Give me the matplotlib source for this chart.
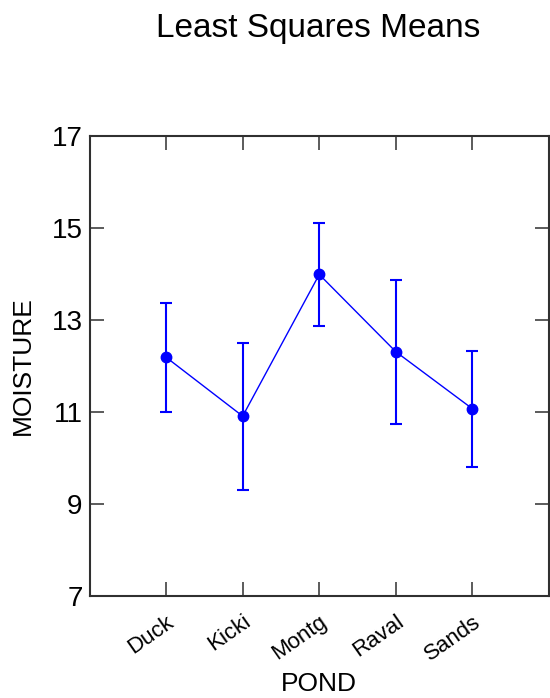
import matplotlib
matplotlib.use("Agg")
import matplotlib.pyplot as plt

plt.rcParams['font.family'] = ['Liberation Sans', 'DejaVu Sans']

ponds = ["Duck", "Kicki", "Montg", "Raval", "Sands"]
means = [12.19, 10.91, 13.99, 12.31, 11.07]
lower = [10.99, 9.30, 12.87, 10.75, 9.80]
upper = [13.38, 12.49, 15.10, 13.87, 12.33]
yticks = [7, 9, 11, 13, 15, 17]

fig = plt.figure(figsize=(5.5, 6.98), dpi=100)
ax = fig.add_axes([89.5/550, 1-596/698, (549-89.5)/550, (596-136)/698])

x = list(range(1, len(ponds)+1))
err_lo = [m - l for m, l in zip(means, lower)]
err_hi = [u - m for m, u in zip(means, upper)]
ax.plot(x, means, color='#0000FF', lw=1.0, zorder=3)
ax.errorbar(x, means, yerr=[err_lo, err_hi], fmt='none', ecolor='#0000FF',
            elinewidth=1.5, capsize=4.5, capthick=1.5, zorder=3)
ax.plot(x, means, 'o', color='#0000FF', ms=7.5, zorder=4)

ax.set_xlim(0, 6)
ax.set_ylim(7, 17)
ax.set_yticks(yticks)
ax.set_yticklabels([str(v) for v in yticks], fontsize=20)
ax.set_xticks(x)
ax.set_xticklabels(ponds, fontsize=16, rotation=35, ha='right', va='top',
                   rotation_mode='anchor')

ax.tick_params(axis='both', direction='in', length=10, width=1.2, color='#404040',
               top=True, right=True)
ax.tick_params(axis='y', pad=5)
ax.tick_params(axis='x', pad=11)
for s in ax.spines.values():
    s.set_color('#303030')
    s.set_linewidth(1.5)

ax.set_ylabel("MOISTURE", fontsize=19, labelpad=0)
ax.yaxis.set_label_coords(-(89.5-23)/459.5, 0.5)
ax.set_xlabel("POND", fontsize=19)
ax.xaxis.set_label_coords(0.5, -(684-596)/460, transform=ax.transAxes)
ax.xaxis.label.set_va('center')
ax.yaxis.label.set_va('center')

fig.text(318.5/550, 1-37/698, "Least Squares Means", fontsize=24, ha='center', va='baseline')

fig.savefig("out.png", dpi=100)
